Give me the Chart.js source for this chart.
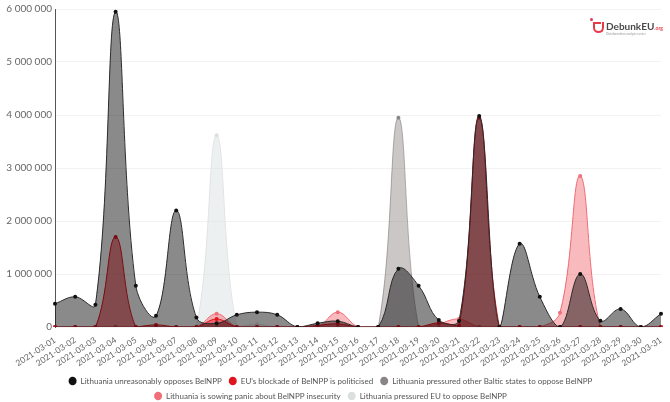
<!DOCTYPE html>
<html lang="en">

<head>
    <meta charset="UTF-8">
    <title>BelNPP narratives</title>
    <script src="https://cdn.jsdelivr.net/npm/chart.js"></script>
    <style>
        body { margin: 0; background: #fff; }
        .wrap { position: relative; width: 670px; height: 402px; }
        .logo { position: absolute; left: 590px; top: 17px; font-family: Lato, sans-serif; }
        .logo .cup { position: absolute; left: 3px; top: 5px; width: 11px; height: 11px; border: 2.5px solid #e8394a; border-top: none; border-radius: 0 0 6px 6px; box-sizing: border-box; }
        .logo .cup:before { content: ''; position: absolute; left: 0; top: 0; width: 6px; height: 2px; background: #e8394a; }
        .logo .dot { position: absolute; left: 0; top: 1px; width: 3px; height: 3px; background: #e8394a; border-radius: 50%; }
        .logo .name { position: absolute; left: 16px; top: 3px; font-size: 10px; font-weight: bold; color: #4a4a4a; white-space: nowrap; }
        .logo .name span { font-size: 5px; color: #e8394a; }
        .logo .tag { position: absolute; left: 16px; top: 15px; font-size: 3px; color: #999; white-space: nowrap; }
    </style>
</head>

<body>
    <div class="wrap">
        <canvas id="grafico" width="670" height="402"></canvas>
        <div class="logo">
            <div class="dot"></div>
            <div class="cup"></div>
            <div class="name">DebunkEU<span>.org</span></div>
            <div class="tag">Disinformation analysis center</div>
        </div>
    </div>

    <script>
        // datas 2021-03-01 .. 2021-03-31
        const dias = [];
        for (let d = 1; d <= 31; d++) {
            dias.push('2021-03-' + String(d).padStart(2, '0'));
        }

        // valores
        const unreasonably = [440000, 570000, 420000, 5950000, 780000, 210000, 2200000, 180000, 70000, 230000,
            280000, 230000, 0, 70000, 110000, 0, 0, 1100000, 780000, 130000,
            115000, 3980000, 0, 1570000, 570000, 0, 1000000, 120000, 340000, 0, 250000];
        const blockade = [0, 0, 0, 1700000, 0, 40000, 0, 0, 150000, 0,
            0, 0, 0, 30000, 60000, 0, 0, 0, 0, 80000,
            30000, 3950000, 0, 0, 0, 0, 0, 0, 0, 0, 0];
        const balticStates = [0, 0, 0, 0, 0, 0, 0, 0, 0, 0,
            0, 0, 0, 0, 0, 0, 0, 3950000, 0, 0,
            0, 0, 0, 0, 0, 0, 0, 0, 0, 0, 0];
        const sowingPanic = [0, 0, 0, 0, 0, 0, 0, 0, 250000, 0,
            0, 0, 0, 0, 280000, 0, 0, 0, 0, 60000,
            150000, 0, 0, 0, 0, 270000, 2850000, 0, 0, 0, 0];
        const pressuredEU = [0, 0, 0, 0, 0, 0, 0, 0, 3620000, 0,
            50000, 0, 0, 0, 0, 0, 0, 0, 0, 0,
            0, 0, 0, 0, 0, 0, 0, 0, 0, 0, 0];

        const yMax = 6000000;
        const yStep = 1000000;

        function serie(label, data, linha, fundo, ponto) {
            return {
                label: label,
                data: data,
                borderColor: linha,
                backgroundColor: fundo,
                pointBackgroundColor: ponto,
                pointBorderColor: ponto,
                pointRadius: 2,
                pointBorderWidth: 0,
                borderWidth: 1,
                tension: 0.4,
                fill: 'origin'
            };
        }

        new Chart(document.getElementById('grafico').getContext('2d'), {
            type: 'line',
            data: {
                labels: dias,
                datasets: [
                    serie('Lithuania unreasonably opposes BelNPP', unreasonably, '#2a2a2a', 'rgba(0, 0, 0, 0.46)', '#111'),
                    serie("EU's blockade of BelNPP is politicised", blockade, '#e0141f', 'rgba(225, 20, 30, 0.5)', '#e0141f'),
                    serie('Lithuania pressured other Baltic states to oppose BelNPP', balticStates, 'rgba(130, 122, 122, 0.6)', 'rgba(130, 122, 122, 0.42)', '#8a8585'),
                    serie('Lithuania is sowing panic about BelNPP insecurity', sowingPanic, '#f06a75', 'rgba(240, 90, 100, 0.42)', '#f07079'),
                    serie('Lithuania pressured EU to oppose BelNPP', pressuredEU, '#e2e4e4', 'rgba(220, 225, 225, 0.5)', '#dcdfe0')
                ]
            },
            options: {
                responsive: false,
                animation: false,
                layout: { padding: { top: 5, right: 9, left: 0, bottom: -8 } },
                plugins: {
                    tooltip: { enabled: false },
                    legend: {
                        position: 'bottom',
                        labels: {
                            usePointStyle: true,
                            pointStyle: 'circle',
                            boxHeight: 6,
                            pointStyleWidth: 8,
                            padding: 7,
                            color: '#555',
                            font: { family: 'Lato', size: 8 }
                        }
                    }
                },
                scales: {
                    x: {
                        grid: { display: false },
                        border: { display: false },
                        afterFit: function (s) { s.height = 43; },
                        ticks: {
                            autoSkip: false,
                            minRotation: 33,
                            maxRotation: 33,
                            padding: 0,
                            color: '#666',
                            font: { family: 'Lato', size: 8.5 }
                        }
                    },
                    y: {
                        min: 0,
                        max: yMax,
                        afterFit: function (s) { s.width = 55; },
                        grid: { color: '#f2f2f2', drawTicks: false },
                        border: { color: '#555', width: 1 },
                        ticks: {
                            stepSize: yStep,
                            padding: 3,
                            color: '#666',
                            font: { family: 'Lato', size: 10 },
                            callback: v => String(v).replace(/\B(?=(\d{3})+(?!\d))/g, ' ')
                        }
                    }
                }
            }
        });
    </script>
</body>

</html>
